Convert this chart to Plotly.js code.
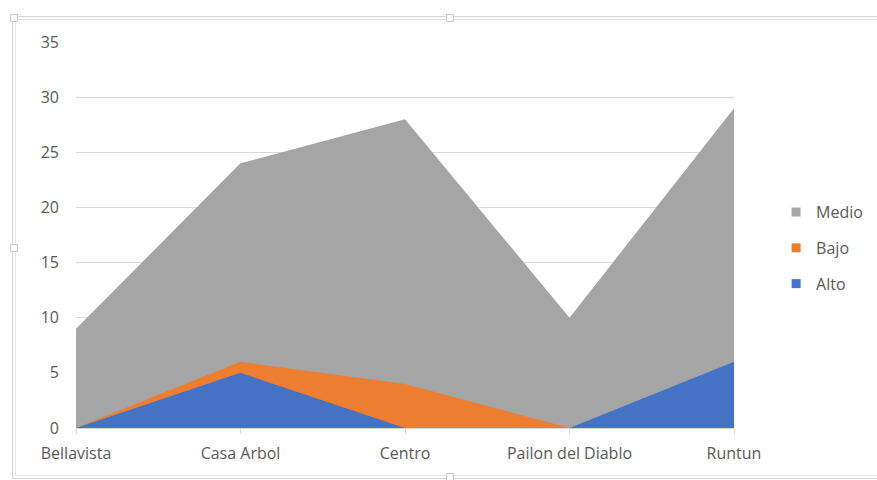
<!DOCTYPE html>
<html>
<head>
<meta charset="utf-8">
<script src="https://cdn.plot.ly/plotly-3.0.1.min.js"></script>
<style>html,body{margin:0;padding:0;background:#fff;}#chart{width:877px;height:480px;}</style>
</head>
<body>
<div id="chart"></div>
<script>
const categories = ["Bellavista", "Casa Arbol", "Centro", "Pailon del Diablo", "Runtun"];
const medio = [9, 24, 28, 10, 29];
const bajo = [0, 6, 4, 0, 0];
const alto = [0, 5, 0, 0, 6];
const yTicks = [0, 5, 10, 15, 20, 25, 30, 35];

const colors = {Medio: "#a5a5a5", Bajo: "#ed7d31", Alto: "#4472c4"};
const series = [["Medio", medio], ["Bajo", bajo], ["Alto", alto]];

const traces = [];
series.forEach(([name, vals]) => {
  traces.push({
    type: "scatter", mode: "lines", x: categories, y: vals, name: name,
    fill: "tozeroy", fillcolor: colors[name], line: {width: 0, color: colors[name]},
    showlegend: false, hoverinfo: "x+y+name"
  });
});
series.forEach(([name]) => {
  traces.push({
    type: "scatter", mode: "markers", x: [null], y: [null], name: name,
    marker: {symbol: "square", size: 9, color: colors[name]},
    legendgroup: name, showlegend: true
  });
});

// chart frame (pixel -> paper helpers)
const L = 76, R = 734, T = 42, B = 428;
const px = v => (v - L) / (R - L);
const py = v => (B - v) / (B - T);
const shapes = [
  {type: "rect", xref: "paper", yref: "paper", x0: px(12.5), x1: px(880), y0: py(478.5), y1: py(16.5), line: {color: "#d4d4d4", width: 1}, fillcolor: "rgba(0,0,0,0)", layer: "below"},
  {type: "rect", xref: "paper", yref: "paper", x0: px(15.5), x1: px(880), y0: py(475.5), y1: py(19.5), line: {color: "#e6e6e6", width: 1}, fillcolor: "rgba(0,0,0,0)", layer: "below"}
];
[[14, 18], [450, 18], [14, 248], [450, 477]].forEach(([cx, cy]) => {
  shapes.push({type: "rect", xref: "paper", yref: "paper", x0: px(cx - 3.5), x1: px(cx + 3.5), y0: py(cy + 3.5), y1: py(cy - 3.5), line: {color: "#c8c8c8", width: 1}, fillcolor: "#ffffff"});
});

const font = {family: "Open Sans, Noto Sans, sans-serif", size: 16, color: "#595959"};

const layout = {
  width: 877, height: 480,
  margin: {l: L, r: 877 - R, t: T, b: 480 - B, autoexpand: false},
  paper_bgcolor: "#ffffff", plot_bgcolor: "#ffffff",
  font: font,
  showlegend: true,
  legend: {
    x: 1.064, xanchor: "left", y: 0.466, yanchor: "middle",
    traceorder: "grouped", tracegroupgap: 12, itemwidth: 30,
    font: font, bgcolor: "rgba(0,0,0,0)"
  },
  xaxis: {
    type: "category", range: [0, 4], showgrid: false, zeroline: false,
    showline: true, linecolor: "#d9d9d9", linewidth: 1,
    ticks: "outside", ticklen: 5, tickcolor: "#d9d9d9",
    ticklabelstandoff: 6, tickfont: font, fixedrange: true, automargin: false
  },
  yaxis: {
    range: [0, 35], tickvals: yTicks, ticktext: yTicks.map(String),
    showgrid: true, gridcolor: "#d9d9d9", gridwidth: 1,
    zeroline: false, showline: false, ticks: "",
    ticklabelstandoff: 16, tickfont: font, fixedrange: true, automargin: false
  },
  shapes: shapes
};

Plotly.newPlot("chart", traces, layout, {displayModeBar: false, staticPlot: true});
</script>
</body>
</html>
